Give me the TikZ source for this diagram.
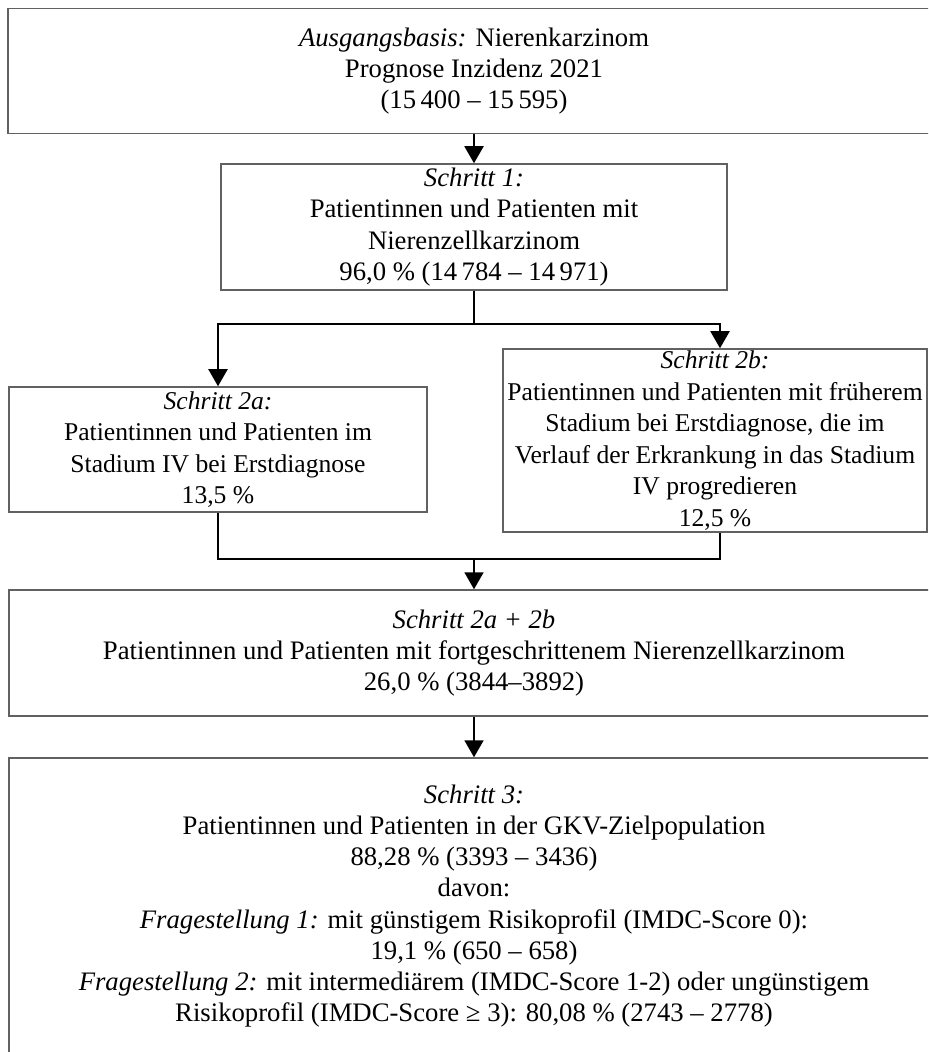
\documentclass[tikz,border=0pt]{standalone}
\usepackage{fontspec}
\setmainfont{Liberation Serif}
\usetikzlibrary{arrows.meta}

\tikzset{
  stepbox/.style={draw=black!62, line width=0.75pt, align=center, inner sep=0pt,
    font=\fontsize{12.8}{15.75}\selectfont},
  widebox/.style={stepbox, font=\fontsize{13.35}{15.6}\selectfont},
  link/.style={line width=1pt},
  flow/.style={link, -{Triangle[width=9.5pt,length=8.5pt]}},
}

\begin{document}
\begin{tikzpicture}[x=0.5pt, y=-0.5pt]
  \path[use as bounding box, clip] (0,0) rectangle (928,1052);

  \node[widebox, minimum width=466pt, minimum height=62.5pt] (basis) at (474,71)
    {\textit{Ausgangsbasis:} Nierenkarzinom\\ Prognose Inzidenz 2021\\ (15\,400 – 15\,595)};
  \node[widebox, minimum width=253pt, minimum height=63pt] (schritt1) at (474,227)
    {\textit{Schritt 1:}\\ Patientinnen und Patienten mit\\ Nierenzellkarzinom\\ 96,0 \% (14\,784 – 14\,971)};
  \node[stepbox, minimum width=209pt, minimum height=62.5pt] (schritt2a) at (218,449.5)
    {\textit{Schritt 2a:}\\ Patientinnen und Patienten im\\ Stadium IV bei Erstdiagnose\\ 13,5 \%};
  \node[stepbox, minimum width=212pt, minimum height=91.5pt] (schritt2b) at (715,440.5)
    {\textit{Schritt 2b:}\\ Patientinnen und Patienten mit früherem\\ Stadium bei Erstdiagnose, die im\\
     Verlauf der Erkrankung in das Stadium\\ IV progredieren\\ 12,5 \%};
  \node[widebox, minimum width=465pt, minimum height=63pt] (kombi) at (474,653)
    {\textit{Schritt 2a + 2b}\\ Patientinnen und Patienten mit fortgeschrittenem Nierenzellkarzinom\\ 26,0 \% (3844–3892)};
  \node[widebox, minimum width=465pt, minimum height=148pt] (schritt3) at (474,906)
    {\textit{Schritt 3:}\\ Patientinnen und Patienten in der GKV-Zielpopulation\\ 88,28 \% (3393 – 3436)\\ davon:\\
     \textit{Fragestellung 1:} mit günstigem Risikoprofil (IMDC-Score 0):\\ 19,1 \% (650 – 658)\\
     \textit{Fragestellung 2:} mit intermediärem (IMDC-Score 1-2) oder ungünstigem\\
     Risikoprofil (IMDC-Score ≥ 3): 80,08 \% (2743 – 2778)};

  % branch and merge points
  \path (schritt1.south) ++(0,33) coordinate (split);
  \path (kombi.north) ++(0,-30) coordinate (merge);

  \draw[flow] (basis.south) -- (schritt1.north);
  \draw[link] (schritt1.south) -- (split);
  \draw[flow] (split) -| (schritt2a.north);
  \draw[flow] (split) -| ([xshift=2.5pt]schritt2b.north);
  \draw[link] (schritt2a.south) |- (merge) -| ([xshift=2.5pt]schritt2b.south);
  \draw[flow] (merge) -- (kombi.north);
  \draw[flow] (kombi.south) -- (schritt3.north);
\end{tikzpicture}
\end{document}
